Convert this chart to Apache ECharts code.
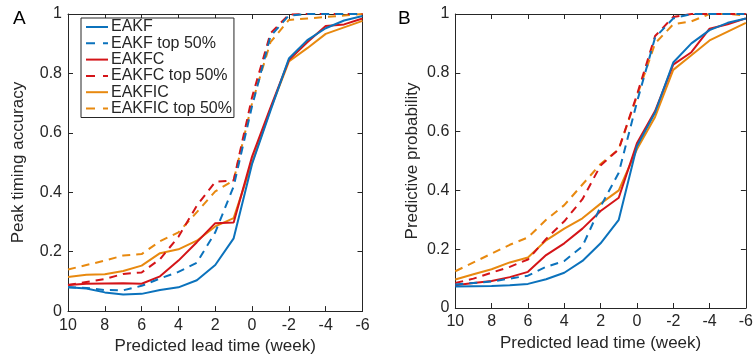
<!DOCTYPE html>
<html><head><meta charset="utf-8">
<script src="https://cdn.jsdelivr.net/npm/echarts@6/dist/echarts.min.js"></script>
<style>html,body{margin:0;padding:0;background:#fff}#c{width:756px;height:360px}</style>
</head><body><div id="c"></div>
<script>
const weeks = [10,9,8,7,6,5,4,3,2,1,0,-1,-2,-3,-4,-5,-6];
const xTicks = [10,8,6,4,2,0,-2,-4,-6];
const seriesNames = ['EAKF','EAKF top 50%','EAKFC','EAKFC top 50%','EAKFIC','EAKFIC top 50%'];
const colors = ['#0B72BC','#0B72BC','#D41418','#D41418','#E8890F','#E8890F'];
const dashed = [false,true,false,true,false,true];

// Panel A: Peak timing accuracy
const A_EAKF       = [0.080,0.076,0.063,0.056,0.058,0.071,0.080,0.104,0.155,0.245,0.495,0.675,0.850,0.912,0.952,0.978,0.993];
const A_EAKF_top   = [0.080,0.078,0.071,0.070,0.085,0.110,0.132,0.163,0.265,0.420,0.690,0.925,0.995,1.000,1.000,1.000,1.000];
const A_EAKFC      = [0.088,0.092,0.093,0.094,0.092,0.117,0.170,0.232,0.296,0.298,0.520,0.685,0.845,0.905,0.960,0.965,0.985];
const A_EAKFC_top  = [0.088,0.098,0.108,0.125,0.130,0.175,0.250,0.355,0.435,0.440,0.720,0.935,0.998,1.000,1.000,1.000,1.000];
const A_EAKFIC     = [0.115,0.122,0.124,0.135,0.153,0.195,0.208,0.237,0.285,0.313,0.500,0.680,0.840,0.885,0.933,0.955,0.977];
const A_EAKFIC_top = [0.140,0.155,0.170,0.187,0.192,0.235,0.265,0.333,0.403,0.440,0.700,0.905,0.980,0.985,0.990,0.995,1.000];

// Panel B: Predictive probability
const B_EAKF       = [0.073,0.074,0.075,0.077,0.082,0.098,0.120,0.160,0.220,0.300,0.550,0.665,0.835,0.900,0.945,0.970,0.985];
const B_EAKF_top   = [0.080,0.085,0.090,0.100,0.110,0.140,0.160,0.210,0.345,0.460,0.700,0.920,0.985,1.000,1.000,1.000,1.000];
const B_EAKFC      = [0.077,0.085,0.092,0.105,0.123,0.180,0.220,0.270,0.330,0.375,0.560,0.670,0.828,0.870,0.950,0.965,0.985];
const B_EAKFC_top  = [0.085,0.100,0.120,0.140,0.165,0.235,0.295,0.370,0.485,0.540,0.725,0.925,0.990,1.000,1.000,1.000,1.000];
const B_EAKFIC     = [0.097,0.115,0.132,0.155,0.172,0.230,0.270,0.305,0.355,0.400,0.540,0.650,0.810,0.860,0.910,0.940,0.970];
const B_EAKFIC_top = [0.125,0.155,0.185,0.215,0.240,0.300,0.350,0.420,0.490,0.540,0.720,0.900,0.965,0.975,1.000,1.000,0.995];

const panelA = [A_EAKF,A_EAKF_top,A_EAKFC,A_EAKFC_top,A_EAKFIC,A_EAKFIC_top];
const panelB = [B_EAKF,B_EAKF_top,B_EAKFC,B_EAKFC_top,B_EAKFIC,B_EAKFIC_top];

const FONT = 'Liberation Sans, Arial, Helvetica, sans-serif';
const TXT = '#262626';
const AX = '#262626';
const ICON_SOLID = 'path://M0,0h22v2h-22z';
const ICON_DASH = 'path://M0,0h9v2h-9z M17,0h5v2h-5z';

function xAx(gi, main, name) {
  return {
    type: 'value', gridIndex: gi, min: -6, max: 10, interval: 2, inverse: true,
    position: main ? 'bottom' : 'top',
    axisLine: {show: true, onZero: false, lineStyle: {color: AX, width: 1}},
    axisTick: {show: true, inside: true, length: 5, lineStyle: {color: AX}},
    axisLabel: {show: main, margin: 6, color: TXT, fontSize: 16, fontFamily: FONT},
    splitLine: {show: false},
    name: main ? name : '', nameLocation: 'middle', nameGap: 23,
    nameTextStyle: {color: TXT, fontSize: 17, fontFamily: FONT}
  };
}
function yAx(gi, main, name, gap) {
  return {
    type: 'value', gridIndex: gi, min: 0, max: 1, interval: 0.2,
    position: main ? 'left' : 'right',
    axisLine: {show: true, onZero: false, lineStyle: {color: AX, width: 1}},
    axisTick: {show: true, inside: true, length: 5, lineStyle: {color: AX}},
    axisLabel: {show: main, margin: 6, color: TXT, fontSize: 16, fontFamily: FONT,
                formatter: v => (v === 0 ? '0' : v === 1 ? '1' : v.toFixed(1))},
    splitLine: {show: false},
    name: main ? name : '', nameLocation: 'middle', nameGap: gap, nameRotate: 90,
    nameTextStyle: {color: TXT, fontSize: 17, fontFamily: FONT}
  };
}

const series = [];
[panelA, panelB].forEach((panel, p) => {
  panel.forEach((vals, i) => {
    series.push({
      name: seriesNames[i], type: 'line',
      xAxisIndex: p * 2, yAxisIndex: p * 2,
      data: weeks.map((w, k) => [w, vals[k]]),
      symbol: 'none', showSymbol: false, clip: true,
      lineStyle: {color: colors[i], width: 2, type: dashed[i] ? [8, 6] : 'solid'},
      itemStyle: {color: colors[i]},
      emphasis: {disabled: true}, silent: true, animation: false, z: 10 - i
    });
  });
});

const chart = echarts.init(document.getElementById('c'), null, {renderer: 'canvas'});
chart.setOption({
  backgroundColor: '#fff',
  animation: false,
  grid: [
    {left: 68, top: 14, width: 294.5, height: 298, containLabel: false},
    {left: 455.3, top: 14, width: 293.7, height: 294, containLabel: false}
  ],
  xAxis: [xAx(0, true, 'Predicted lead time (week)'), xAx(0, false), xAx(1, true, 'Predicted lead time (week)'), xAx(1, false)],
  yAxis: [yAx(0, true, 'Peak timing accuracy', 41), yAx(0, false), yAx(1, true, 'Predictive probability', 34), yAx(1, false)],
  legend: {
    data: seriesNames.map((n, i) => ({name: n, icon: dashed[i] ? ICON_DASH : ICON_SOLID,
                                      itemStyle: {color: colors[i], borderWidth: 0}})),
    orient: 'vertical', left: 81, top: 18,
    padding: [1, 2, 1, 5], itemGap: 0.3, itemWidth: 22, itemHeight: 2,
    backgroundColor: '#fff', borderColor: '#262626', borderWidth: 1, borderRadius: 0,
    textStyle: {color: TXT, fontSize: 16, lineHeight: 16, fontFamily: FONT, padding: [0,0,0,-2]},
    selectedMode: false, z: 20
  },
  title: [
    {text: 'A', left: 8, top: 4, textStyle: {fontSize: 19, fontWeight: 'normal', color: '#000', fontFamily: FONT}},
    {text: 'B', left: 393, top: 4, textStyle: {fontSize: 19, fontWeight: 'normal', color: '#000', fontFamily: FONT}}
  ],
  series: series
});
</script></body></html>
